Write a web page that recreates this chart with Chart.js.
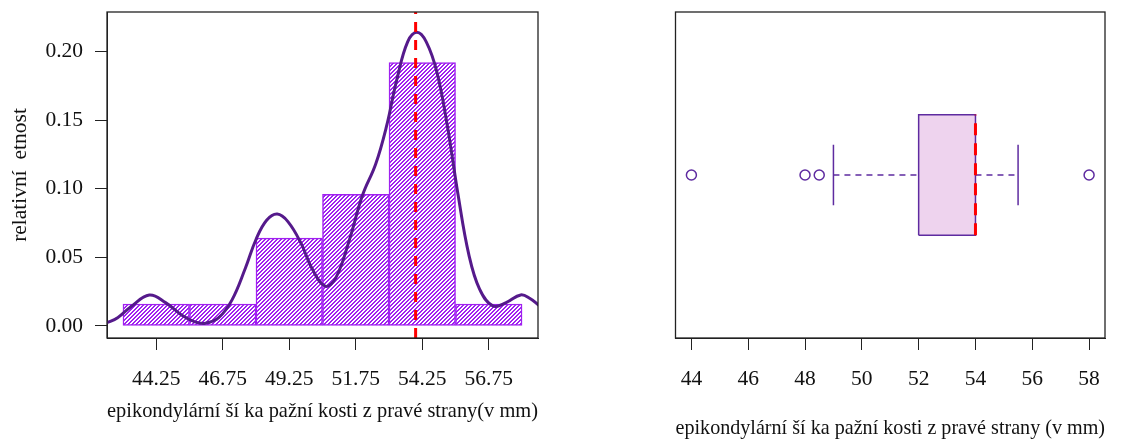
<!DOCTYPE html>
<html>
<head>
<meta charset="utf-8">
<script src="https://cdn.jsdelivr.net/npm/chart.js@4/dist/chart.umd.min.js"></script>
<style>
  html, body { margin: 0; padding: 0; background: #fff; }
  #wrap { position: relative; width: 1122px; height: 443px; }
  canvas { position: absolute; top: 0; }
  #histo { left: 0; }
  #boxp { left: 560px; }
</style>
</head>
<body>
<div id="wrap">
  <canvas id="histo" width="560" height="443"></canvas>
  <canvas id="boxp" width="562" height="443"></canvas>
</div>
<script>
// --- data ---
const BIN_CENTERS = [44.25, 46.75, 49.25, 51.75, 54.25, 56.75];
const BIN_DENSITY = [0.016, 0.016, 0.064, 0.096, 0.192, 0.016];

const KDE_X = [42.36, 42.8, 43.3, 43.99, 44.6, 45.2, 45.7, 46.1, 46.6, 47.1, 47.6, 48.0, 48.4, 48.8,
               49.2, 49.7, 50.1, 50.6, 51.0, 51.5, 52.0, 52.5, 52.9, 53.3, 53.7, 54.05, 54.4, 54.8,
               55.2, 55.6, 56.0, 56.4, 56.9, 57.4, 57.95, 58.3, 58.63];
const KDE_Y = [0.002, 0.006, 0.014, 0.0225, 0.017, 0.008, 0.003, 0.002, 0.006, 0.019, 0.042, 0.063, 0.077, 0.0815,
               0.076, 0.060, 0.042, 0.029, 0.035, 0.062, 0.095, 0.118, 0.145, 0.180, 0.207, 0.214, 0.207, 0.185,
               0.145, 0.095, 0.052, 0.027, 0.0146, 0.017, 0.0226, 0.020, 0.015];

const MEDIAN = 54;
const QUARTILES = [52, 54];
const WHISKERS = [49, 55.5];
const OUTLIERS = [44, 48, 48.5, 58];

const HIST_X_TICKS = [44.25, 46.75, 49.25, 51.75, 54.25, 56.75];
const HIST_Y_TICKS = [0, 0.05, 0.10, 0.15, 0.20];
const BOX_X_TICKS = [44, 46, 48, 50, 52, 54, 56, 58];

const X_TITLE_HIST = 'epikondylární ší ka pažní kosti z pravé strany(v mm)';
const X_TITLE_BOX = 'epikondylární ší ka pažní kosti z pravé strany (v mm)';
const Y_TITLE_HIST = 'relativní  etnost';

const FONT = { family: "'Liberation Serif', 'DejaVu Serif', serif", size: 21.5 };
const INK = '#222';
const PURPLE = '#A020F0';
const DARK_PURPLE = '#551A8B';
const BOX_PURPLE = '#5E2BA0';

// box around the plot region, like R's box()
const frame = {
  id: 'frame',
  afterDraw(chart) {
    const { ctx, chartArea: a } = chart;
    ctx.save();
    ctx.strokeStyle = INK;
    ctx.lineWidth = 1.3;
    ctx.strokeRect(a.left, a.top, a.right - a.left, a.bottom - a.top);
    ctx.restore();
  }
};

// 45 degree hatch, like density= in R's hist()
function makeHatch(ctx) {
  const n = 4, w = 2;
  const c = document.createElement('canvas');
  c.width = n; c.height = n;
  const g = c.getContext('2d');
  g.fillStyle = '#ffffff';
  g.fillRect(0, 0, n, n);
  g.fillStyle = PURPLE;
  for (let i = 0; i < n; i++) {
    g.fillRect(i, n - 1 - i, 1, w);
    g.fillRect(i, n - 1 - i - n, 1, w);
  }
  return ctx.createPattern(c, 'repeat');
}

const fixedTicks = list => scale => { scale.ticks = list.map(v => ({ value: v })); };
const noPad = s => { s.paddingTop = 0; s.paddingBottom = 0; s.paddingLeft = 0; s.paddingRight = 0; };

const xAxisCommon = {
  type: 'linear',
  offset: false,
  border: { display: true, color: INK, width: 1 },
  grid: { offset: false, drawOnChartArea: false, drawTicks: true, tickLength: 12, color: INK, lineWidth: 1 },
  ticks: { color: '#111', font: FONT, padding: 16, maxRotation: 0, autoSkip: false },
};

Chart.defaults.animation = false;

// --- left: histogram + density ---
const hctx = document.getElementById('histo').getContext('2d');
const hatch = makeHatch(hctx);
new Chart(hctx, {
  type: 'bar',
  data: {
    datasets: [
      {
        type: 'line',
        data: [{ x: MEDIAN, y: -0.0088 }, { x: MEDIAN, y: 0.2288 }],
        borderColor: '#FF0000',
        borderWidth: 3,
        borderDash: [10, 8],
        pointRadius: 0,
        order: 0,
      },
      {
        type: 'line',
        data: KDE_X.map((x, i) => ({ x, y: KDE_Y[i] })),
        borderColor: DARK_PURPLE,
        borderWidth: 3,
        tension: 0.4,
        pointRadius: 0,
        order: 1,
      },
      {
        type: 'bar',
        data: BIN_CENTERS.map((x, i) => ({ x, y: BIN_DENSITY[i] })),
        backgroundColor: hatch,
        hoverBackgroundColor: hatch,
        borderColor: PURPLE,
        borderWidth: 1.5,
        borderSkipped: false,
        barPercentage: 1,
        categoryPercentage: 1,
        order: 2,
      },
    ],
  },
  options: {
    responsive: false,
    layout: { padding: { top: 12, right: 22, left: 0, bottom: 0 } },
    plugins: { legend: { display: false }, tooltip: { enabled: false }, colors: { enabled: false } },
    scales: {
      x: {
        ...xAxisCommon,
        min: 42.4, max: 58.6,
        afterBuildTicks: fixedTicks(HIST_X_TICKS),
        afterFit: s => { noPad(s); s.height = 105; },
        ticks: { ...xAxisCommon.ticks, callback: v => v.toFixed(2) },
        title: { display: true, text: X_TITLE_HIST, color: '#111', font: FONT, padding: { top: 0, bottom: 19 } },
      },
      y: {
        type: 'linear',
        min: -0.0088, max: 0.2288,
        afterBuildTicks: fixedTicks(HIST_Y_TICKS),
        afterFit: s => { noPad(s); s.width = 107; },
        border: { display: true, color: INK, width: 1 },
        grid: { drawOnChartArea: false, drawTicks: true, tickLength: 12, color: INK, lineWidth: 1 },
        ticks: { color: '#111', font: FONT, padding: 12, callback: v => v.toFixed(2) },
        title: { display: true, text: Y_TITLE_HIST, color: '#111', font: FONT, padding: { top: 7, bottom: 0 } },
      },
    },
  },
  plugins: [frame],
});

// --- right: horizontal boxplot ---
const bctx = document.getElementById('boxp').getContext('2d');
const seg = (x1, y1, x2, y2) => [{ x: x1, y: y1 }, { x: x2, y: y2 }];
new Chart(bctx, {
  type: 'scatter',
  data: {
    datasets: [
      { type: 'line', data: seg(MEDIAN, 0.8, MEDIAN, 1.2), borderColor: '#FF0000', borderWidth: 3, borderDash: [12, 8], pointRadius: 0 },
      {
        type: 'line',
        data: [{ x: QUARTILES[0], y: 0.8 }, { x: QUARTILES[1], y: 0.8 }, { x: QUARTILES[1], y: 1.2 },
               { x: QUARTILES[0], y: 1.2 }, { x: QUARTILES[0], y: 0.8 }],
        borderColor: BOX_PURPLE, borderWidth: 1.5, pointRadius: 0, fill: false,
      },
      { type: 'line', data: seg(QUARTILES[0], 0.8, QUARTILES[1], 0.8), borderWidth: 0, pointRadius: 0 },
      { type: 'line', data: seg(QUARTILES[0], 1.2, QUARTILES[1], 1.2), borderWidth: 0, pointRadius: 0,
        fill: '-1', backgroundColor: '#EED3EE' },
      { type: 'line', data: seg(WHISKERS[0], 1, QUARTILES[0], 1), borderColor: BOX_PURPLE, borderWidth: 1.5, borderDash: [6, 5], pointRadius: 0 },
      { type: 'line', data: seg(QUARTILES[1], 1, WHISKERS[1], 1), borderColor: BOX_PURPLE, borderWidth: 1.5, borderDash: [6, 5], pointRadius: 0 },
      { type: 'line', data: seg(WHISKERS[0], 0.9, WHISKERS[0], 1.1), borderColor: BOX_PURPLE, borderWidth: 1.5, pointRadius: 0 },
      { type: 'line', data: seg(WHISKERS[1], 0.9, WHISKERS[1], 1.1), borderColor: BOX_PURPLE, borderWidth: 1.5, pointRadius: 0 },
      {
        data: OUTLIERS.map(x => ({ x, y: 1 })),
        pointStyle: 'circle', pointRadius: 5, borderColor: BOX_PURPLE, borderWidth: 1.5,
        backgroundColor: 'rgba(0,0,0,0)',
      },
    ],
  },
  options: {
    responsive: false,
    layout: { padding: { top: 12, right: 17, left: 115.5, bottom: 0 } },
    plugins: { legend: { display: false }, tooltip: { enabled: false }, colors: { enabled: false } },
    scales: {
      x: {
        ...xAxisCommon,
        min: 43.44, max: 58.56,
        afterBuildTicks: fixedTicks(BOX_X_TICKS),
        afterFit: s => { noPad(s); s.height = 105; },
        title: { display: true, text: X_TITLE_BOX, color: '#111', font: FONT, padding: { top: 0, bottom: 2 } },
      },
      y: { type: 'linear', display: false, min: 0.46, max: 1.54 },
    },
  },
  plugins: [frame],
});
</script>
</body>
</html>
